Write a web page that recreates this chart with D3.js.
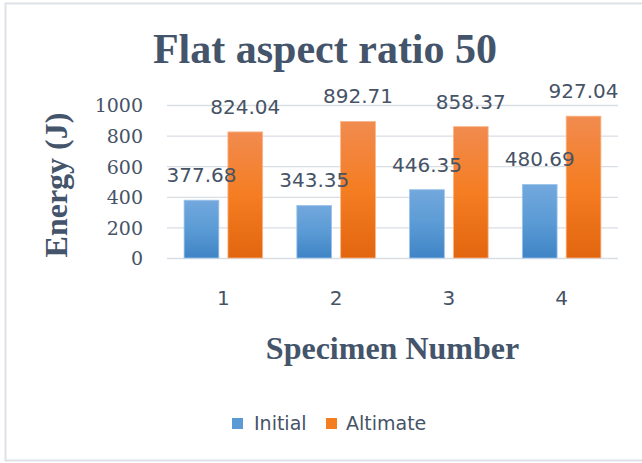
<!DOCTYPE html>
<html>
<head>
<meta charset="utf-8">
<script src="https://cdn.jsdelivr.net/npm/d3@7"></script>
<style>
  html, body { margin: 0; padding: 0; background: #fff; }
  svg { display: block; }
</style>
</head>
<body>
<svg id="chart" width="642" height="463"></svg>
<script>
// Impact energy per specimen, flat aspect ratio 50
const specimens = ["1", "2", "3", "4"];
const seriesNames = ["Initial", "Altimate"];
const initialValues = [377.68, 343.35, 446.35, 480.69];
const altimateValues = [824.04, 892.71, 858.37, 927.04];
const yTicks = [0, 200, 400, 600, 800, 1000];

const textColor = "#44546a";
const labelColor = "#465366";
const gridColor = "#d9dde4";

const svg = d3.select("#chart");
const defs = svg.append("defs");

// Vertical gradient fills for the two series
const gradients = [
  { id: "gradBlue", stops: ["#72a8dd", "#5b9bd5", "#3f84c6"] },
  { id: "gradOrange", stops: ["#f18b4f", "#f57d22", "#e2660f"] }
];
gradients.forEach(g => {
  const lg = defs.append("linearGradient")
    .attr("id", g.id).attr("x1", 0).attr("y1", 0).attr("x2", 0).attr("y2", 1);
  lg.selectAll("stop").data(g.stops).join("stop")
    .attr("offset", (d, i) => (i / (g.stops.length - 1)) * 100 + "%")
    .attr("stop-color", d => d);
});
const fills = ["url(#gradBlue)", "url(#gradOrange)"];
const swatch = ["#5b9bd5", "#f47d20"];
const outlines = ["#9cc3ea", "#f8b68a"];

// Outer frame
svg.append("rect")
  .attr("x", 5.5).attr("y", 3.5)
  .attr("width", 700).attr("height", 457)
  .attr("fill", "#fff")
  .attr("stroke", "#dde1e8").attr("stroke-width", 2);

const plot = { left: 167, right: 618, top: 105, bottom: 258 };

const x0 = d3.scaleBand()
  .domain(specimens)
  .range([plot.left, plot.right])
  .padding(0);

const x1 = d3.scaleBand()
  .domain(seriesNames)
  .range([0, x0.bandwidth()])
  .paddingInner(0.207)
  .paddingOuter(0.39);

const y = d3.scaleLinear()
  .domain([0, 1000])
  .range([plot.bottom, plot.top]);

// Gridlines and y tick labels
const yAxis = svg.append("g")
  .attr("transform", `translate(${plot.left},0)`)
  .call(d3.axisLeft(y).tickValues(yTicks).tickSize(-(plot.right - plot.left)).tickPadding(24).tickFormat(d3.format("d")));
yAxis.select(".domain").remove();
yAxis.selectAll(".tick line").attr("stroke", gridColor).attr("stroke-width", 1.3);
yAxis.selectAll(".tick text")
  .attr("fill", labelColor)
  .attr("font-family", "'DejaVu Serif', serif")
  .attr("font-size", 19)
  .attr("dy", "0.36em");

// Bars
const rows = specimens.map((s, i) => ({ specimen: s, values: [initialValues[i], altimateValues[i]] }));

const groups = svg.append("g").selectAll("g")
  .data(rows)
  .join("g")
  .attr("transform", d => `translate(${x0(d.specimen)},0)`);

groups.selectAll("rect")
  .data(d => d.values.map((v, k) => ({ key: seriesNames[k], k, v })))
  .join("rect")
  .attr("x", d => x1(d.key))
  .attr("y", d => y(d.v))
  .attr("width", x1.bandwidth())
  .attr("height", d => y(0) - y(d.v))
  .attr("fill", d => fills[d.k])
  .attr("stroke", d => outlines[d.k])
  .attr("stroke-width", 0.8);

// Value labels above the bars
groups.selectAll("text.value")
  .data(d => d.values.map((v, k) => ({ key: seriesNames[k], k, v })))
  .join("text")
  .attr("class", "value")
  .attr("x", d => x1(d.key) + x1.bandwidth() / 2)
  .attr("y", d => y(d.v) - 18)
  .attr("text-anchor", "middle")
  .attr("font-family", "'DejaVu Sans', sans-serif")
  .attr("font-size", 20)
  .attr("fill", labelColor)
  .text(d => d3.format(".2f")(d.v));

// Category labels
svg.append("g").selectAll("text")
  .data(specimens)
  .join("text")
  .attr("x", d => x0(d) + x0.bandwidth() / 2)
  .attr("y", 305)
  .attr("text-anchor", "middle")
  .attr("font-family", "'DejaVu Sans', sans-serif")
  .attr("font-size", 20)
  .attr("fill", labelColor)
  .text(d => d);

// Title
svg.append("text")
  .attr("x", 325)
  .attr("y", 63)
  .attr("text-anchor", "middle")
  .attr("font-family", "'Liberation Serif', 'Times New Roman', serif")
  .attr("font-weight", "bold")
  .attr("font-size", 42)
  .attr("fill", textColor)
  .text("Flat aspect ratio 50");

// Axis titles
svg.append("text")
  .attr("x", (plot.left + plot.right) / 2)
  .attr("y", 359)
  .attr("text-anchor", "middle")
  .attr("font-family", "'Liberation Serif', 'Times New Roman', serif")
  .attr("font-weight", "bold")
  .attr("font-size", 32)
  .attr("fill", textColor)
  .text("Specimen Number");

svg.append("text")
  .attr("transform", "translate(67,185) rotate(-90)")
  .attr("text-anchor", "middle")
  .attr("font-family", "'Liberation Serif', 'Times New Roman', serif")
  .attr("font-weight", "bold")
  .attr("font-size", 32)
  .attr("fill", textColor)
  .text("Energy (J)");

// Legend
const legendItems = [
  { name: seriesNames[0], sx: 232, tx: 254 },
  { name: seriesNames[1], sx: 326, tx: 346 }
];
const legend = svg.append("g");
legend.selectAll("rect")
  .data(legendItems)
  .join("rect")
  .attr("x", d => d.sx)
  .attr("y", 418)
  .attr("width", 11)
  .attr("height", 11)
  .attr("fill", (d, i) => swatch[i]);
legend.selectAll("text")
  .data(legendItems)
  .join("text")
  .attr("x", d => d.tx)
  .attr("y", 430)
  .attr("font-family", "'DejaVu Sans', sans-serif")
  .attr("font-size", 19)
  .attr("fill", labelColor)
  .text(d => d.name);
</script>
</body>
</html>
